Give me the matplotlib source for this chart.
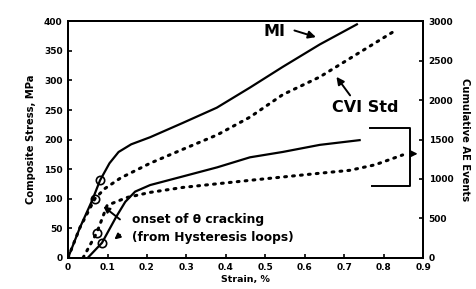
import matplotlib
matplotlib.use("Agg")
import matplotlib.pyplot as plt

plt.rcParams['font.family'] = ['DejaVu Sans']
plt.rcParams['font.weight'] = 'bold'

# stress-strain, left axis (MPa)
mi_strain = [0, 0.030, 0.061, 0.081, 0.105, 0.128, 0.16, 0.208, 0.29, 0.377, 0.461, 0.544, 0.638, 0.732]
mi_stress = [0, 51, 97, 131, 160, 179, 192, 204, 228, 254, 288, 323, 361, 395]
cvi_strain = [0, 0.030, 0.068, 0.093, 0.133, 0.208, 0.289, 0.378, 0.461, 0.544, 0.638, 0.733, 0.833]
cvi_stress = [0, 51, 100, 117, 135, 160, 183, 208, 238, 276, 306, 345, 386]

# cumulative AE events, right axis
mi_ae_strain = [0.05, 0.086, 0.122, 0.145, 0.17, 0.208, 0.289, 0.378, 0.461, 0.544, 0.638, 0.739]
mi_ae = [0, 190, 520, 710, 840, 923, 1030, 1148, 1275, 1343, 1433, 1493]
cvi_ae_strain = [0.038, 0.073, 0.099, 0.149, 0.208, 0.291, 0.461, 0.638, 0.714, 0.778, 0.848]
cvi_ae = [0, 320, 665, 765, 830, 893, 983, 1073, 1110, 1180, 1305]

# onset of cracking markers
onset_strain = [0.081, 0.068]
onset_stress = [131, 100]
onset_ae_strain = [0.073, 0.086]
onset_ae = [320, 190]

xticks = [0, 0.1, 0.2, 0.3, 0.4, 0.5, 0.6, 0.7, 0.8, 0.9]
xticklabels = ['0', '0.1', '0.2', '0.3', '0.4', '0.5', '0.6', '0.7', '0.8', '0.9']
yticks = [0, 50, 100, 150, 200, 250, 300, 350, 400]
y2ticks = [0, 500, 1000, 1500, 2000, 2500, 3000]

fig = plt.figure(figsize=(4.76, 2.89), dpi=100)
ax = fig.add_axes([0.143, 0.108, 0.746, 0.818])
ax2 = ax.twinx()

dot = (0, (0.6, 2.0))
ax.plot(mi_strain, mi_stress, color='black', lw=1.6)
ax.plot(cvi_strain, cvi_stress, color='black', lw=2.2, linestyle=dot, dash_capstyle='round')
ax.plot(onset_strain, onset_stress, 'o', mfc='none', mec='black', ms=6, mew=1.2)

ax2.plot(mi_ae_strain, mi_ae, color='black', lw=1.6)
ax2.plot(cvi_ae_strain, cvi_ae, color='black', lw=2.2, linestyle=dot, dash_capstyle='round')
ax2.plot(onset_ae_strain, onset_ae, 'o', mfc='none', mec='black', ms=6, mew=1.2)

ax.set_xlim(0, 0.9)
ax.set_ylim(0, 400)
ax2.set_ylim(0, 3000)
ax.set_xticks(xticks)
ax.set_xticklabels(xticklabels)
ax.set_yticks(yticks)
ax2.set_yticks(y2ticks)

for a in (ax, ax2):
    for s in a.spines.values():
        s.set_linewidth(1.4)
    a.tick_params(direction='in', length=3, width=1.2, labelsize=6.5, pad=4)
ax.tick_params(axis='x', pad=4)

ax.set_xlabel('Strain, %', fontsize=6.8, fontweight='bold', labelpad=2)
ax.set_ylabel('Composite Stress, MPa', fontsize=7.2, fontweight='bold', labelpad=6)
ax2.set_ylabel('Cumulative AE Events', fontsize=7.2, fontweight='bold', rotation=270, labelpad=12)

# labels and arrows
ax.text(0.522, 383, 'MI', fontsize=11.5, fontweight='bold', ha='center', va='center')
ax.annotate('', xy=(0.635, 372), xytext=(0.567, 386),
            arrowprops=dict(arrowstyle='-|>', color='black', lw=1.4, mutation_scale=11))
ax.text(0.752, 254, 'CVI Std', fontsize=11.5, fontweight='bold', ha='center', va='center')
ax.annotate('', xy=(0.676, 310), xytext=(0.719, 271),
            arrowprops=dict(arrowstyle='-|>', color='black', lw=1.4, mutation_scale=11))

ax.text(0.162, 64, 'onset of θ cracking', fontsize=8.8, fontweight='bold', ha='left', va='center')
ax.text(0.162, 34, '(from Hysteresis loops)', fontsize=8.8, fontweight='bold', ha='left', va='center')
ax.annotate('', xy=(0.084, 90), xytext=(0.137, 62),
            arrowprops=dict(arrowstyle='-|>', color='black', lw=1.4, mutation_scale=9))
ax.annotate('', xy=(0.112, 28), xytext=(0.137, 42),
            arrowprops=dict(arrowstyle='-|>', color='black', lw=1.4, mutation_scale=8))

# bracket to the AE axis
ax.plot([0.765, 0.866, 0.866, 0.770], [220, 220, 121, 121], color='black', lw=1.4)
ax.annotate('', xy=(0.893, 176), xytext=(0.866, 176),
            arrowprops=dict(arrowstyle='-|>', color='black', lw=1.2, mutation_scale=10))

fig.savefig('out.png', dpi=100)
